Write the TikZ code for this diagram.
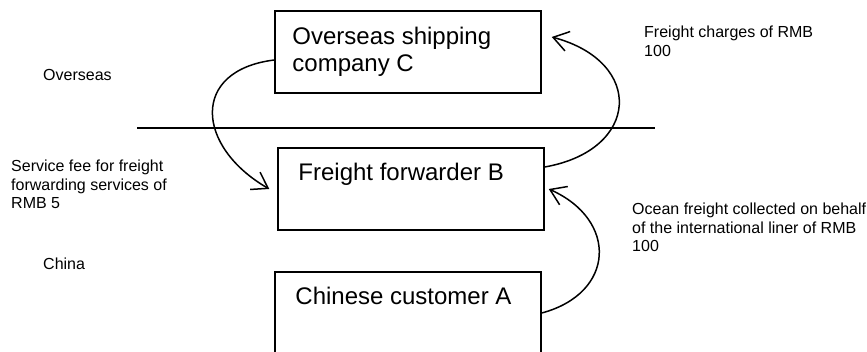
\documentclass[tikz,border=0pt]{standalone}
\usepackage{fontspec}
\setmainfont{Liberation Sans}
\usetikzlibrary{positioning,arrows.meta}

\tikzstyle{party} = [draw, line width=1.5pt, minimum width=266pt, minimum height=82pt, inner sep=0pt]
\tikzstyle{partyname} = [inner sep=0pt, align=left, font=\fontsize{24}{27}\selectfont]
\tikzstyle{note} = [inner sep=0pt, align=left, font=\fontsize{16}{18.5}\selectfont]
\tikzstyle{flow} = [line width=1.5pt, -{Straight Barb[length=15pt,width=20pt]}]

\begin{document}
\begin{tikzpicture}[x=1pt, y=1pt]
\useasboundingbox (0,0) rectangle (867,-352);
\clip (0,0) rectangle (867,-352);
%parties
\node[party] (C) at (408,-52) {};
\node[party] (B) at (411,-189) {};
\node[party] (A) at (408,-313) {};
\node[partyname, below right=17pt and 18pt of C.north west] (Cname) {Overseas shipping\\company C};
\node[partyname, below right=16pt and 21pt of B.north west] (Bname) {Freight forwarder B};
\node[partyname, below right=16pt and 21pt of A.north west] (Aname) {Chinese customer A};
%border between overseas and china
\coordinate (borderW) at (137,-128);
\coordinate (borderE) at (655,-128);
\draw[line width=1.5pt] (borderW) -- (borderE);
\node[note, anchor=west] (overseas) at (43,-75) {Overseas};
\node[note, anchor=west] (china) at (43,-264) {China};
%payments
\draw[flow] ([yshift=-8pt]C.west) to[out=187, in=150, looseness=1.68] ([xshift=-8pt]B.west);
\draw[flow] ([yshift=22pt]B.east) to[out=10, in=-15, looseness=1.9] ([shift={(10pt,15pt)}]C.east);
\draw[flow] (A.east) to[out=15, in=-24, looseness=1.57] ([xshift=4pt]B.east);
%amounts
\node[note, anchor=north west] (fee) at (11,-160) {Service fee for freight\\forwarding services of\\RMB 5};
\node[note, anchor=north west] (charges) at (644,-26) {Freight charges of RMB\\100};
\node[note, anchor=north west] (collected) at (632,-203) {Ocean freight collected on behalf\\of the international liner of RMB\\100};
\end{tikzpicture}
\end{document}
